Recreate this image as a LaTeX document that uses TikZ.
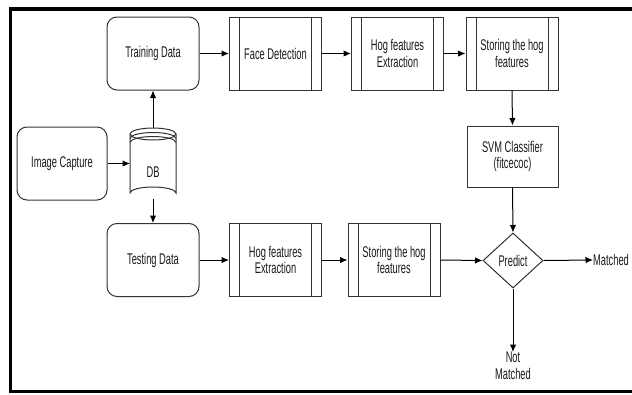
\documentclass[tikz,border=0pt]{standalone}
\usepackage{fontspec}
\setmainfont[FakeStretch=0.6]{Liberation Sans}
\usetikzlibrary{shapes.geometric,arrows.meta,positioning}
\definecolor{strk}{HTML}{333333}
\definecolor{txt}{HTML}{1A1A1A}
\begin{document}
\begin{tikzpicture}[x=1pt,y=-1pt,
  every node/.style={font=\fontsize{15.5}{16.5}\selectfont, text=txt, align=center},
  rbox/.style={draw=strk, line width=1pt, rounded corners=10pt, fill=white,
    minimum width=92pt, minimum height=73pt, inner sep=0pt},
  pbox/.style={draw=strk, line width=1pt, fill=white,
    minimum width=92pt, minimum height=73pt, inner sep=0pt,
    path picture={
      \draw[strk, line width=1pt] ([xshift=10pt]path picture bounding box.north west) -- ([xshift=10pt]path picture bounding box.south west);
      \draw[strk, line width=1pt] ([xshift=-10pt]path picture bounding box.north east) -- ([xshift=-10pt]path picture bounding box.south east);
    }},
  sbox/.style={draw=strk, line width=1pt, fill=white,
    minimum width=91pt, minimum height=61pt, inner sep=0pt},
  arr/.style={draw=black, line width=1pt, -{Latex[length=7.5pt,width=6.5pt]}},
  plain/.style={draw=none, inner sep=0pt}
]
\clip (0,0) rectangle (632,394);
\fill[white] (0,0) rectangle (632,394);
\draw[line width=3.8pt] (10.5,9) rectangle (650,391.5);

% nodes
\node[rbox] (train) at (153,53.5) {Training Data};
\node[pbox] (face) at (275.5,53.5) {Face Detection};
\node[pbox] (hog1) at (397.5,53.5) {Hog features\\Extraction};
\node[pbox] (store1) at (512,53.5) {Storing the hog\\features};
\node[sbox] (svm) at (512.5,156.5) {SVM Classifier\\(fitcecoc)};
\node[rbox, minimum width=90pt] (cap) at (62,163.5) {Image Capture};
\node[rbox] (test) at (153,260) {Testing Data};
\node[pbox] (hog2) at (275.5,260) {Hog features\\Extraction};
\node[pbox] (store2) at (394,260) {Storing the hog\\features};
\node[diamond, draw=strk, line width=1pt, fill=white, minimum width=60pt, minimum height=55pt, inner sep=0pt] (pred) at (513,260.5) {Predict};
\node[plain, anchor=west] (match) at (593,260) {Matched};
\node[plain, anchor=north] (nomatch) at (513,352) {Not\\Matched};

% DB cylinder
\coordinate (dbtop) at (153,128);
\coordinate (dbbot) at (153,199);
\coordinate (dbleft) at (130,163.5);
\begin{scope}[strk, line width=1pt]
  \fill[white] (130,134) -- (130,193) arc[start angle=180, end angle=360, x radius=23, y radius=6] -- (176,134) arc[start angle=0, end angle=180, x radius=23, y radius=6];
  \draw (153,134) ellipse[x radius=23, y radius=6];
  \draw (130,138.5) arc[start angle=180, end angle=360, x radius=23, y radius=6];
  \draw (130,142.5) arc[start angle=180, end angle=360, x radius=23, y radius=6];
  \draw (130,134) -- (130,193) arc[start angle=180, end angle=360, x radius=23, y radius=6] -- (176,134);
\end{scope}
\node[plain] (db) at (153,172) {DB};

% connectors
\draw[arr] (cap.east) -- (dbleft);
\draw[arr] (dbtop) -- (train.south);
\draw[arr] (dbbot) -- (test.north);
\draw[arr] (train.east) -- (face.west);
\draw[arr] (face.east) -- (hog1.west);
\draw[arr] (hog1.east) -- (store1.west);
\draw[arr] (store1.south) -- (svm.north);
\draw[arr] (svm.south) -- (pred.north);
\draw[arr] (test.east) -- (hog2.west);
\draw[arr] (hog2.east) -- (store2.west);
\draw[arr] (store2.east) -- (pred.west);
\draw[arr] (pred.east) -- (match.west);
\draw[arr] (pred.south) -- (nomatch.north);
\end{tikzpicture}
\end{document}
